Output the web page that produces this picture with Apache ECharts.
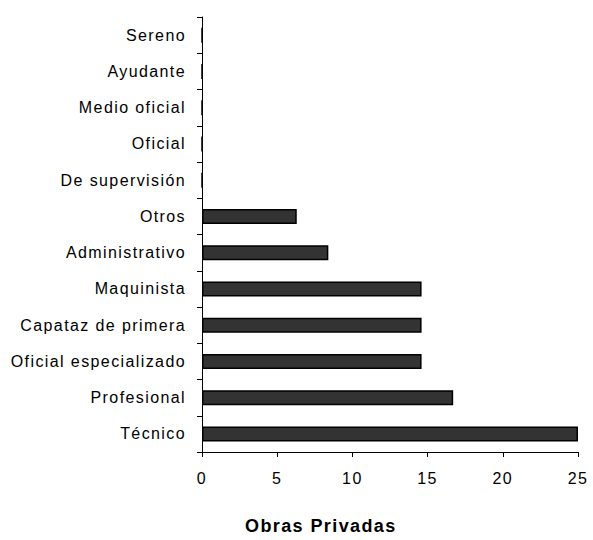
<!DOCTYPE html>
<html>
<head>
<meta charset="utf-8">
<script src="https://cdn.jsdelivr.net/npm/echarts@6/dist/echarts.min.js"></script>
<style>
  html, body { margin: 0; padding: 0; background: #fff; }
  #chartId { width: 593px; height: 540px; }
  /* the original labels are set with wide spacing */
  #chartId text { letter-spacing: 1.4px; }
</style>
</head>
<body>
<div id="chartId"></div>
<script>
// categories listed bottom to top, as the category axis draws them
var categories = ['Técnico', 'Profesional', 'Oficial especializado', 'Capataz de primera',
  'Maquinista', 'Administrativo', 'Otros', 'De supervisión', 'Oficial', 'Medio oficial',
  'Ayudante', 'Sereno'];
var values = [25, 16.7, 14.6, 14.6, 14.6, 8.4, 6.3, 0, 0, 0, 0, 0];
var xTicks = [0, 5, 10, 15, 20, 25];
var titleText = 'Obras Privadas';

var font = '"Liberation Sans", Arial, sans-serif';
var myChart = echarts.init(document.getElementById('chartId'), null, { renderer: 'svg' });
myChart.setOption({
    animation: false,
    title: {
        text: titleText,
        left: 245,
        top: 517,
        padding: 0,
        textStyle: { fontFamily: font, fontSize: 18, fontWeight: 'bold', color: '#000' }
    },
    grid: {
        left: 202,
        right: 15,
        top: 17,
        bottom: 88,
        containLabel: false
    },
    xAxis: {
        type: 'value',
        min: xTicks[0],
        max: xTicks[xTicks.length - 1],
        interval: 5,
        splitLine: { show: false },
        axisLine: { show: true, lineStyle: { color: '#000', width: 1 } },
        axisTick: { show: true, length: 5, lineStyle: { color: '#000' } },
        axisLabel: { fontFamily: font, fontSize: 16, color: '#000', margin: 18 }
    },
    yAxis: {
        type: 'category',
        data: categories,
        axisLine: { show: true, lineStyle: { color: '#000', width: 1 } },
        axisTick: { show: true, length: 5, lineStyle: { color: '#000' } },
        axisLabel: { fontFamily: font, fontSize: 16, color: '#000', margin: 16 }
    },
    series: [{
        type: 'bar',
        data: values,
        barWidth: 15,
        itemStyle: {
            color: '#333333',
            borderColor: '#000',
            borderWidth: 1.5
        }
    }]
});
</script>
</body>
</html>
